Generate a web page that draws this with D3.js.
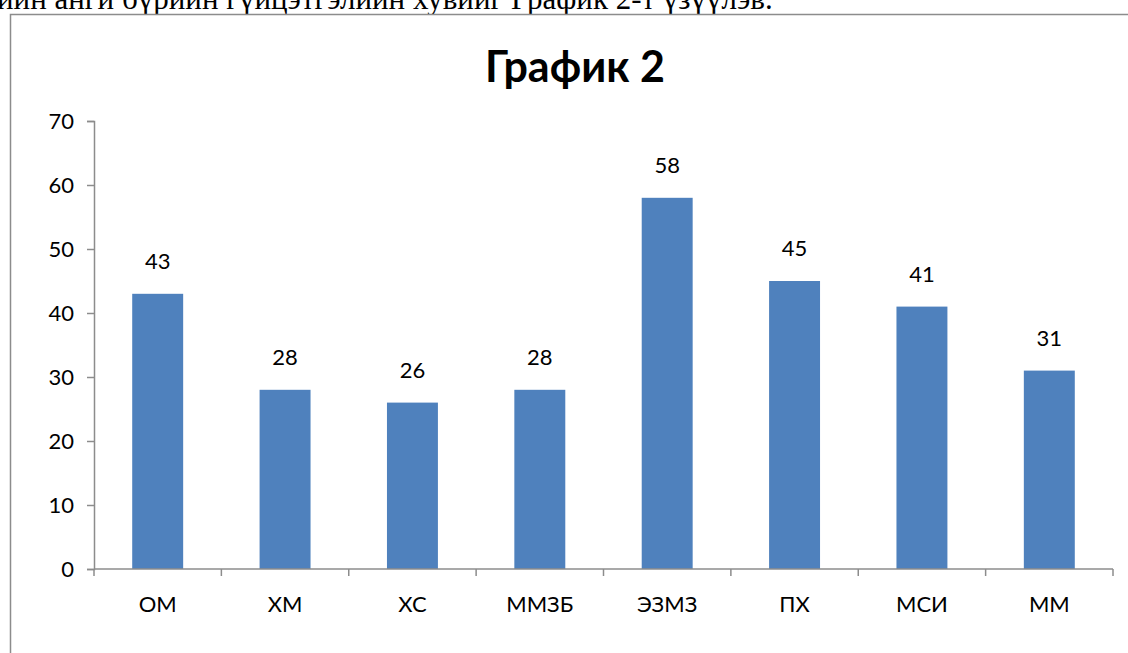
<!DOCTYPE html>
<html>
<head>
<meta charset="utf-8">
<script src="https://cdn.jsdelivr.net/npm/d3@7"></script>
<style>
  body { margin: 0; background: #fff; overflow: hidden; }
  svg { display: block; }
</style>
</head>
<body>
<svg id="chart" width="1128" height="653"></svg>
<script>
// data
var categories = ["ОМ", "ХМ", "ХС", "ММЗБ", "ЭЗМЗ", "ПХ", "МСИ", "ММ"];
var values = [43, 28, 26, 28, 58, 45, 41, 31];
var yTicks = [0, 10, 20, 30, 40, 50, 60, 70];
var title = "График 2";
var caption = "ийн анги бүрийн гүйцэтгэлийн хувийг График 2-т үзүүлэв.";

var svg = d3.select("#chart"),
    width = +svg.attr("width"),
    height = +svg.attr("height");

var font = "Lato, 'Open Sans', sans-serif";

// cut-off line of document text above the chart
svg.append("text")
    .attr("x", -3)
    .attr("y", 9)
    .attr("font-family", "'Liberation Serif', serif")
    .attr("font-size", 31)
    .attr("fill", "#000")
    .text(caption);

// chart frame (runs past the right and bottom edges)
svg.append("rect")
    .attr("x", 10.5)
    .attr("y", 14.5)
    .attr("width", 1200)
    .attr("height", 700)
    .attr("fill", "#fff")
    .attr("stroke", "#8c8c8c")
    .attr("stroke-width", 1.5);

svg.append("text")
    .attr("x", 575)
    .attr("y", 82)
    .attr("text-anchor", "middle")
    .attr("font-family", font)
    .attr("font-weight", "bold")
    .attr("font-size", 43)
    .attr("fill", "#000")
    .text(title);

var x = d3.scaleBand()
    .domain(categories)
    .range([94, 1113])
    .paddingInner(0.6)
    .paddingOuter(0.3);

var y = d3.scaleLinear()
    .domain([0, 70])
    .range([569, 121]);

var g = svg.append("g");

// y axis
var yAxis = g.append("g")
    .attr("transform", "translate(94,0)")
    .call(d3.axisLeft(y).tickValues(yTicks).tickSize(7).tickPadding(13));
yAxis.selectAll("text")
    .attr("font-family", font)
    .attr("font-size", 22)
    .attr("fill", "#000");

// bars
g.selectAll(".bar")
    .data(values)
    .enter().append("rect")
      .attr("class", "bar")
      .attr("x", function(d, i) { return x(categories[i]); })
      .attr("y", function(d) { return y(d); })
      .attr("width", x.bandwidth())
      .attr("height", function(d) { return y(0) - y(d); })
      .attr("fill", "#4f81bd");

// value labels
g.selectAll(".val")
    .data(values)
    .enter().append("text")
      .attr("class", "val")
      .attr("x", function(d, i) { return x(categories[i]) + x.bandwidth() / 2; })
      .attr("y", function(d) { return y(d) - 25; })
      .attr("text-anchor", "middle")
      .attr("font-family", font)
      .attr("font-size", 22)
      .attr("fill", "#000")
      .text(function(d) { return d; });

// x axis with ticks between categories
var xAxis = g.append("g")
    .attr("transform", "translate(0,569)");
xAxis.append("line")
    .attr("x1", 94).attr("x2", 1113)
    .attr("stroke", "#8c8c8c").attr("stroke-width", 1.5);
xAxis.selectAll(".tick")
    .data(d3.range(categories.length + 1))
    .enter().append("line")
      .attr("x1", function(i) { return 94 + i * (1113 - 94) / categories.length; })
      .attr("x2", function(i) { return 94 + i * (1113 - 94) / categories.length; })
      .attr("y1", 0).attr("y2", 7)
      .attr("stroke", "#8c8c8c").attr("stroke-width", 1.5);
xAxis.selectAll(".cat")
    .data(categories)
    .enter().append("text")
      .attr("x", function(d) { return x(d) + x.bandwidth() / 2; })
      .attr("y", 43)
      .attr("text-anchor", "middle")
      .attr("font-family", font)
      .attr("font-size", 22)
      .attr("fill", "#000")
      .text(function(d) { return d; });

// axis styling like the original
yAxis.select(".domain").attr("stroke", "#8c8c8c").attr("stroke-width", 1.5);
yAxis.selectAll(".tick line").attr("stroke", "#8c8c8c").attr("stroke-width", 1.5);
</script>
</body>
</html>
